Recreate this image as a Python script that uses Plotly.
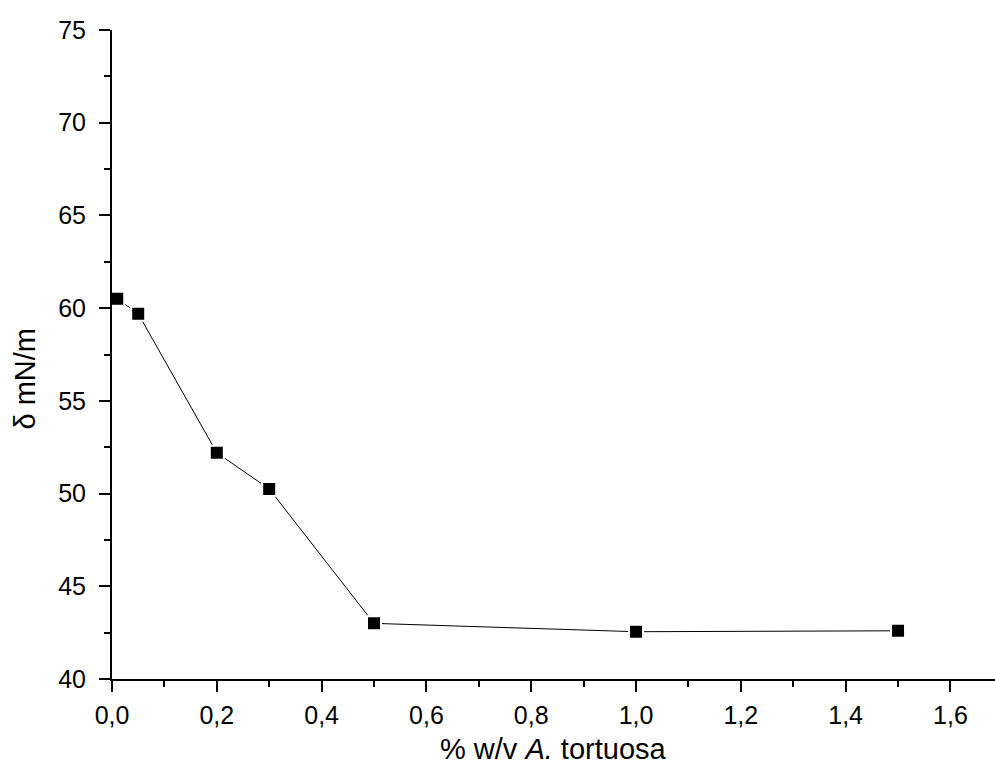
import plotly.graph_objects as go

conc = [0.01, 0.05, 0.2, 0.3, 0.5, 1.0, 1.5]
tension = [60.5, 59.7, 52.2, 50.25, 43.0, 42.55, 42.6]

x_title = "% w/v <i>A.</i> tortuosa"
y_title = "δ mN/m"

fig = go.Figure()
fig.add_trace(go.Scatter(
    x=conc, y=tension, mode="lines+markers",
    line=dict(color="black", width=1),
    marker=dict(symbol="square", size=14, color="black",
                line=dict(color="white", width=2)),
    showlegend=False,
))

font_family = "Liberation Sans, Arial, sans-serif"
fig.update_layout(
    width=995, height=775,
    margin=dict(l=112, r=0, t=30, b=96),
    paper_bgcolor="white", plot_bgcolor="white",
    separators=",.",
    font=dict(family=font_family, size=20, color="black"),
    xaxis=dict(
        range=[0, 1.685], tick0=0, dtick=0.2, tickformat=".1f",
        showgrid=False, zeroline=False, showline=True, linecolor="black", linewidth=2,
        ticks="outside", ticklen=11, tickwidth=2, tickcolor="black",
        ticklabelstandoff=2,
        minor=dict(dtick=0.1, ticks="outside", ticklen=6, tickwidth=2, tickcolor="black"),
        tickfont=dict(size=25),
    ),
    yaxis=dict(
        range=[40, 75], tick0=40, dtick=5,
        showgrid=False, zeroline=False, showline=True, linecolor="black", linewidth=2,
        ticks="outside", ticklen=11, tickwidth=2, tickcolor="black",
        ticklabelstandoff=8,
        minor=dict(dtick=2.5, ticks="outside", ticklen=6, tickwidth=2, tickcolor="black"),
        tickfont=dict(size=25),
    ),
    annotations=[
        dict(text=x_title, xref="paper", yref="paper", x=0.5, y=0, yshift=-70,
             showarrow=False, xanchor="center", yanchor="middle",
             font=dict(size=29)),
        dict(text=y_title, xref="paper", yref="paper", x=0, y=0.5, xshift=-88, yshift=-24,
             showarrow=False, xanchor="center", yanchor="middle", textangle=-90,
             font=dict(size=29)),
    ],
)

fig.write_html("out.html")
